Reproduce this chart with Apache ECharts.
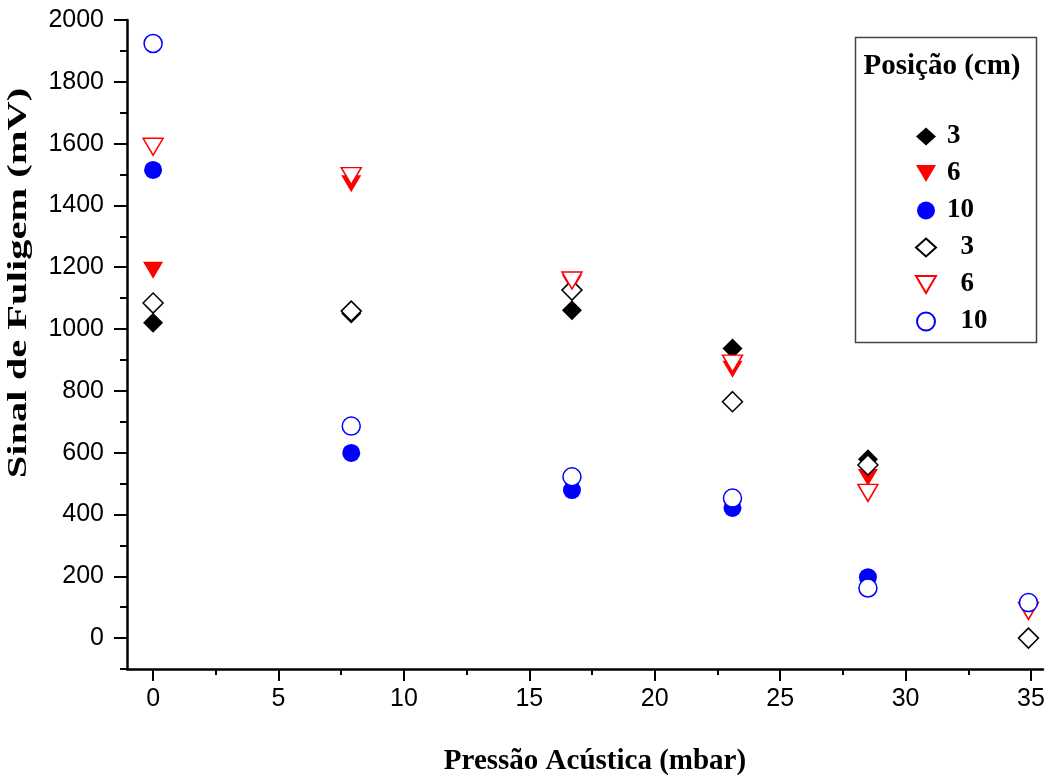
<!DOCTYPE html>
<html>
<head>
<meta charset="utf-8">
<script src="https://cdn.jsdelivr.net/npm/echarts@6/dist/echarts.min.js"></script>
<style>
  html, body { margin: 0; padding: 0; background: #fff; }
  #chart { width: 1054px; height: 781px; }
</style>
</head>
<body>
<div id="chart"></div>
<script>
// pressure (mbar) and soot signal (mV)
const pressure = [0, 7.9, 16.7, 23.1, 28.5, 34.9]
const filled3 = [1020, 1050, 1061, 937, 579, null]
const filled6 = [1190, 1470, 1148, 870, 520, null]
const filled10 = [1515, 599, 479, 421, 197, null]
const hollow3 = [1084, 1058, 1126, 765, 560, 0]
const hollow6 = [1590, 1495, 1157, 888, 470, 88]
const hollow10 = [1924, 686, 522, 453, 162, 115]

const xLabels = [0, 5, 10, 15, 20, 25, 30, 35]
const xMinor = [2.5, 7.5, 12.5, 17.5, 22.5, 27.5, 32.5]
const yLabels = [0, 200, 400, 600, 800, 1000, 1200, 1400, 1600, 1800, 2000]
const yMinor = [-100, 100, 300, 500, 700, 900, 1100, 1300, 1500, 1700, 1900]

const sp = '\u00a0\u00a0'
const downTri = 'path://M0,0 L20,0 L10,17 Z'

function pairs (vals) {
  const out = []
  vals.forEach((v, i) => { if (v !== null) out.push([pressure[i], v]) })
  return out
}

const chart = echarts.init(document.getElementById('chart'))

const axisLine = { show: true, onZero: false, lineStyle: { color: '#000', width: 2.5 } }
const plain = v => String(v)

const option = {
  animation: false,
  backgroundColor: '#fff',
  grid: { left: 127, right: 11, top: 20, bottom: 112, containLabel: false },
  xAxis: [
    {
      type: 'value', min: -1.04, max: 35.48,
      axisLine: axisLine,
      axisTick: { show: true, customValues: xLabels, length: 12, lineStyle: { color: '#000', width: 2 } },
      axisLabel: { customValues: xLabels, formatter: plain, margin: 18, color: '#000', fontSize: 25, fontFamily: 'Liberation Sans' },
      splitLine: { show: false }
    },
    {
      type: 'value', min: -1.04, max: 35.48, position: 'bottom',
      axisLine: { show: false, onZero: false },
      axisTick: { show: true, customValues: xMinor, length: 6, lineStyle: { color: '#000', width: 2 } },
      axisLabel: { show: false },
      splitLine: { show: false }
    }
  ],
  yAxis: [
    {
      type: 'value', min: -100, max: 2000,
      axisLine: axisLine,
      axisTick: { show: true, customValues: yLabels, length: 13, lineStyle: { color: '#000', width: 2 } },
      axisLabel: { customValues: yLabels, formatter: plain, margin: 23, color: '#000', fontSize: 25, fontFamily: 'Liberation Sans' },
      splitLine: { show: false }
    },
    {
      type: 'value', min: -100, max: 2000, position: 'left',
      axisLine: { show: false, onZero: false },
      axisTick: { show: true, customValues: yMinor, length: 7, lineStyle: { color: '#000', width: 2 } },
      axisLabel: { show: false },
      splitLine: { show: false }
    }
  ],
  legend: {
    orient: 'vertical',
    left: 910,
    top: 118,
    itemWidth: 20,
    itemHeight: 18,
    itemGap: 10,
    textStyle: { fontFamily: 'Liberation Serif', fontWeight: 'bold', fontSize: 27, color: '#000', padding: [0, 0, 0, 6] },
    data: ['3', '6', '10', sp + '3', sp + '6', sp + '10']
  },
  graphic: [
    {
      type: 'rect', left: 853, top: 35,
      shape: { width: 181, height: 305 },
      style: { fill: 'none', stroke: '#444', lineWidth: 1.5 }
    },
    {
      type: 'text', x: 942, y: 67,
      style: { text: 'Posição (cm)', font: 'bold 29px "Liberation Serif"', fill: '#000', textAlign: 'center', textVerticalAlign: 'middle' }
    },
    {
      type: 'text', x: 595, y: 762,
      style: { text: 'Pressão Acústica (mbar)', font: 'bold 29px "Liberation Serif"', fill: '#000', textAlign: 'center', textVerticalAlign: 'middle' }
    },
    {
      type: 'text', x: 19, y: 283, rotation: Math.PI / 2, scaleX: 1.5,
      style: { text: 'Sinal de Fuligem (mV)', font: 'bold 27px "Liberation Serif"', fill: '#000', textAlign: 'center', textVerticalAlign: 'middle' }
    }
  ],
  series: [
    { name: '3', type: 'scatter', symbol: 'diamond', symbolSize: 20, itemStyle: { color: '#000', opacity: 1 }, data: pairs(filled3) },
    { name: '6', type: 'scatter', symbol: downTri, symbolSize: [20, 17], itemStyle: { color: '#ff0000', opacity: 1 }, data: pairs(filled6) },
    { name: '10', type: 'scatter', symbol: 'circle', symbolSize: 18, itemStyle: { color: '#0000ff', opacity: 1 }, data: pairs(filled10) },
    { name: sp + '3', type: 'scatter', symbol: 'diamond', symbolSize: 20, itemStyle: { color: '#fff', borderColor: '#000', borderWidth: 1.5, opacity: 1 }, data: pairs(hollow3) },
    { name: sp + '6', type: 'scatter', symbol: downTri, symbolSize: [20, 17], itemStyle: { color: '#fff', borderColor: '#ff0000', borderWidth: 1.5, opacity: 1 }, data: pairs(hollow6) },
    { name: sp + '10', type: 'scatter', symbol: 'circle', symbolSize: 18, itemStyle: { color: '#fff', borderColor: '#0000ff', borderWidth: 1.5, opacity: 1 }, data: pairs(hollow10) }
  ]
}

chart.setOption(option)
</script>
</body>
</html>
